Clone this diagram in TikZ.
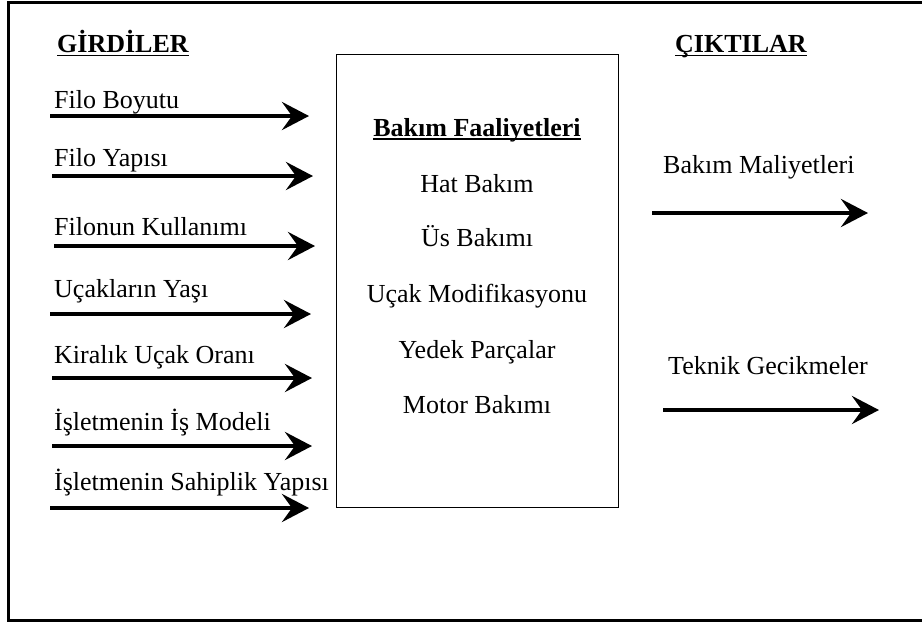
\documentclass[tikz,border=0pt]{standalone}
\usepackage{fontspec}
\setmainfont{Liberation Serif}
\usetikzlibrary{arrows.meta}
\begin{document}
\begin{tikzpicture}[x=1pt,y=-1pt,
  txt/.style={inner sep=0pt,font=\fontsize{26}{30}\selectfont},
  lbl/.style={txt,anchor=base west},
  mid/.style={txt,anchor=base},
  head/.style={txt,anchor=base west,font=\fontsize{26}{30}\selectfont\bfseries},
  flow/.style={line width=4.5pt,-{Stealth[length=27pt,width=28pt,inset=10pt]}},
  uline/.style={line width=1.6pt},
  frame/.style={draw,line width=3pt},
  corebox/.style={draw,line width=1.3pt,inner sep=0pt,anchor=north west,
    minimum width=282pt,minimum height=453pt}]
\useasboundingbox (0,0) rectangle (922,622);
% outer frame, running off the right edge of the page
\draw[frame] (930,2) -- (8.5,2) -- (8.5,620.5) -- (930,620.5);

% column headings
\node[head] (inputs) at (57,52) {GİRDİLER};
\node[head] (outputs) at (675,52) {ÇIKTILAR};
\draw[uline] ([yshift=-3.5pt]inputs.base west) -- ([yshift=-3.5pt]inputs.base east);
\draw[uline] ([yshift=-3.5pt]outputs.base west) -- ([yshift=-3.5pt]outputs.base east);

% central process box
\node[corebox] (core) at (336,54) {};
\node[mid,font=\fontsize{26}{30}\selectfont\bfseries] (act) at (477,136) {Bakım Faaliyetleri};
\draw[uline] ([yshift=-3pt]act.base west) -- ([yshift=-3pt]act.base east);
\node[mid] (a1) at (477,192) {Hat Bakım};
\node[mid] (a2) at (477,246) {Üs Bakımı};
\node[mid] (a3) at (477,302) {Uçak Modifikasyonu};
\node[mid] (a4) at (477,358) {Yedek Parçalar};
\node[mid] (a5) at (477,413) {Motor Bakımı};

% inputs: name / label / baseline / arrow y / arrow start / arrow end
\foreach \n/\t/\b/\a/\xs/\xe in {
  i1/Filo Boyutu/108/116/50/309,
  i2/Filo Yapısı/166/176/52/313,
  i3/Filonun Kullanımı/235/246/54/315,
  i4/Uçakların Yaşı/297/314/50/311,
  i5/Kiralık Uçak Oranı/363/378/52/312,
  i6/İşletmenin İş Modeli/430/446/52/312,
  i7/İşletmenin Sahiplik Yapısı/490/508/50/309}{
  \node[lbl] (\n) at (54,\b) {\t};
  \coordinate (\n s) at (\xs,\a);
  \coordinate (\n e) at (\xe,\a);
  \draw[flow] (\n s) -- (\n e);
}

% outputs
\node[lbl] (o1) at (663,173) {Bakım Maliyetleri};
\coordinate (o1s) at (652,213);
\coordinate (o1e) at (868,213);
\draw[flow] (o1s) -- (o1e);
\node[lbl] (o2) at (668,374) {Teknik Gecikmeler};
\coordinate (o2s) at (663,410);
\coordinate (o2e) at (879,410);
\draw[flow] (o2s) -- (o2e);
\end{tikzpicture}
\end{document}
